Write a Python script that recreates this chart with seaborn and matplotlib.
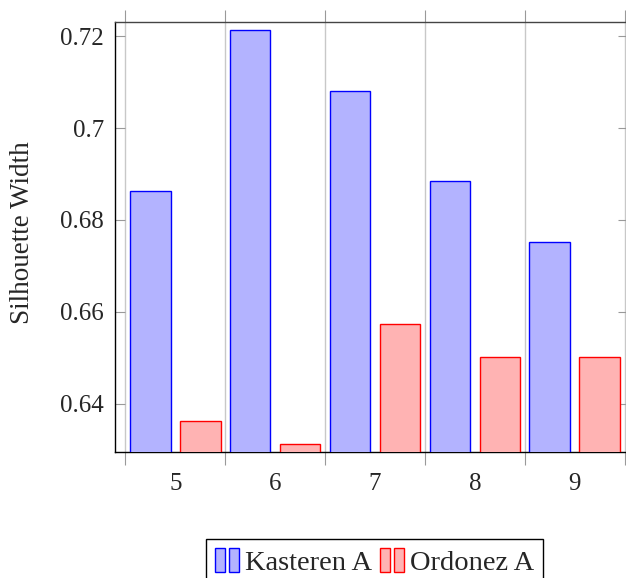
import matplotlib
matplotlib.use("Agg")
import matplotlib.pyplot as plt
from matplotlib.patches import Rectangle
from matplotlib.legend_handler import HandlerTuple
from matplotlib.ticker import FixedLocator
import pandas as pd
import seaborn as sns

clusters = ["5", "6", "7", "8", "9"]
kasteren_a = [0.6862, 0.7213, 0.7081, 0.6885, 0.6753]
ordonez_a = [0.6362, 0.6313, 0.6575, 0.6502, 0.6503]
series = ["Kasteren A", "Ordonez A"]
yticks = [0.64, 0.66, 0.68, 0.70, 0.72]
ytick_labels = ["0.64", "0.66", "0.68", "0.7", "0.72"]

fills = {"Kasteren A": "#b3b3ff", "Ordonez A": "#ffb3b3"}
edges = {"Kasteren A": "#0000ff", "Ordonez A": "#ff0000"}

df = pd.DataFrame({
    "Clusters": clusters * 2,
    "Series": [series[0]] * len(clusters) + [series[1]] * len(clusters),
    "Silhouette": kasteren_a + ordonez_a,
})

sns.set_style("white")
plt.rcParams["font.family"] = ["Liberation Serif", "DejaVu Serif"]

fig = plt.figure(figsize=(6.26, 5.78), dpi=100)
ax = fig.add_axes([115 / 626, 126 / 578, 513 / 626, 430 / 578])

sns.barplot(data=df, x="Clusters", y="Silhouette", hue="Series",
            hue_order=series, palette=fills, saturation=1, width=1.0, gap=0.19,
            legend=False, ax=ax, zorder=3)

for cont, name in zip(ax.containers, series):
    for p in cont:
        p.set_edgecolor(edges[name])
        p.set_linewidth(1.0)

ax.set_ylim(0.64 - 48 / 4600, 0.72 + 14 / 4600)
ax.set_xlim(-0.605, 4.535)
ax.set_yticks(yticks, ytick_labels)
ax.set_xlabel("")
ax.set_ylabel("")

# grid lines between the groups
ax.xaxis.set_minor_locator(FixedLocator([-0.5, 0.5, 1.5, 2.5, 3.5, 4.5]))
ax.grid(False)
ax.grid(True, which="minor", axis="x", color="#c8c8c8", linewidth=1.0, zorder=0)
ax.set_axisbelow(True)

ax.tick_params(axis="x", which="major", length=0, pad=15, labelsize=18)
ax.tick_params(axis="x", which="minor", direction="out", length=9, width=0.8,
               color="#999999", top=True, bottom=True)
ax.tick_params(axis="y", which="major", direction="in", length=7.5, width=0.8,
               color="#999999", left=True, right=True, pad=8, labelsize=18)

for side in ["left", "bottom", "right"]:
    ax.spines[side].set_color("black")
    ax.spines[side].set_linewidth(1.0)
ax.spines["top"].set_color("#444444")
ax.spines["top"].set_linewidth(1.0)

fig.text(23 / 626, 1 - 233 / 578, "Silhouette Width", rotation=90,
         ha="center", va="center", fontsize=19.5)

handles = [
    (Rectangle((0, 0), 1, 1, facecolor=fills[s], edgecolor=edges[s], linewidth=1.0),
     Rectangle((0, 0), 1, 1, facecolor=fills[s], edgecolor=edges[s], linewidth=1.0))
    for s in series
]
fig.legend(handles, series, loc="upper center",
           bbox_to_anchor=(374.5 / 626, 1 - 539 / 578),
           ncol=2, fontsize=20.5, frameon=True, fancybox=False,
           edgecolor="black", framealpha=1, borderpad=0.3,
           handlelength=0.85, handleheight=0.95, handletextpad=0.2,
           columnspacing=0.3, borderaxespad=0,
           handler_map={tuple: HandlerTuple(ndivide=None, pad=0.15)})

fig.savefig("out.png", dpi=100)
